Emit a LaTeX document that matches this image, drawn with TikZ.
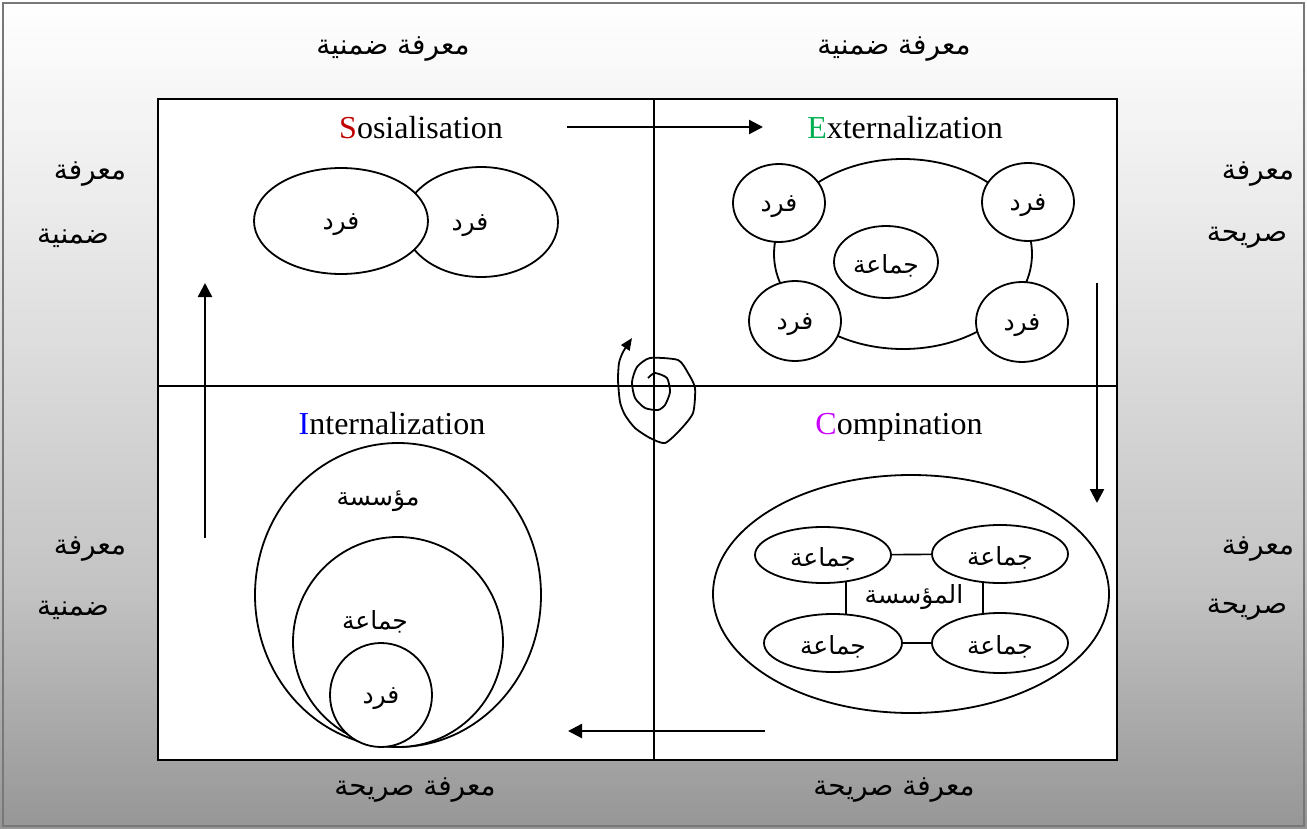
\documentclass[tikz,border=0pt]{standalone}
\usepackage{fontspec}
\setmainfont{Liberation Serif}
\newfontfamily\arabicfont[Script=Arabic]{DejaVu Sans}
\TeXXeTstate=1
\usetikzlibrary{shapes.geometric,arrows.meta,calc}

\definecolor{sred}{RGB}{192,0,0}
\definecolor{egreen}{RGB}{0,176,80}
\definecolor{iblue}{RGB}{0,0,255}
\definecolor{cviolet}{RGB}{204,0,255}
\definecolor{gbot}{RGB}{150,150,150}
\definecolor{gmid}{RGB}{196,196,196}
\definecolor{glight}{RGB}{236,236,236}
\definecolor{frame}{RGB}{120,120,120}

\pgfdeclareverticalshading{pageshade}{100bp}{%
  color(0bp)=(gbot); color(25bp)=(gbot); color(40bp)=(gmid);
  color(63bp)=(glight); color(75bp)=(white); color(100bp)=(white)}

\pgfdeclarelayer{back}
\pgfdeclarelayer{links}
\pgfsetlayers{back,links,main}

\tikzset{
  x=0.5pt, y=-0.5pt,
  side/.style={font=\arabicfont\fontsize{14}{16}\selectfont, inner sep=0pt, yshift=-2pt},
  inlbl/.style={font=\arabicfont\fontsize{12.5}{14}\selectfont, inner sep=0pt, yshift=-2pt},
  title/.style={font=\fontsize{16}{19}\selectfont, inner sep=0pt,
                text height=11pt, text depth=3.5pt},
  ell/.style={ellipse, draw, fill=white, line width=0.9pt, inner sep=0pt},
  flow/.style={line width=1.2pt, -{Triangle[length=7pt,width=7pt]}},
  divider/.style={line width=0.8pt},
  link/.style={line width=0.8pt}
}

\begin{document}
\begin{tikzpicture}
\useasboundingbox (0,0) rectangle (1307,829);

% page background, frame and the four quadrants
\begin{pgfonlayer}{back}
  \shade[shading=pageshade] (0,0) rectangle (1307,829);
  \draw[frame, line width=1.2pt] (3,3) rectangle (1304,826);
  \draw[fill=white, line width=1pt] (158,99) rectangle (1117,760);
  \draw[divider] (654,99) -- (654,760);
  \draw[divider] (158,386) -- (1117,386);
  % organisation ellipse of the combination quadrant (behind its links)
  \node[ell, minimum width=198pt, minimum height=119pt] (c0) at (911,594) {};
\end{pgfonlayer}

% outer labels
\node[side] (top1) at (393,45) {\beginR معرفة ضمنية\endR};
\node[side] (top2) at (894,45) {\beginR معرفة ضمنية\endR};
\node[side] (bot1) at (415,786) {\beginR معرفة صريحة\endR};
\node[side] (bot2) at (894,786) {\beginR معرفة صريحة\endR};
\node[side] (l1a) at (90,170) {\beginR معرفة\endR};
\node[side] (l1b) at (73,234) {\beginR ضمنية\endR};
\node[side] (l2a) at (90,545) {\beginR معرفة\endR};
\node[side] (l2b) at (73,606) {\beginR ضمنية\endR};
\node[side] (r1a) at (1258,170) {\beginR معرفة\endR};
\node[side] (r1b) at (1247,234) {\beginR صريحة\endR};
\node[side] (r2a) at (1258,545) {\beginR معرفة\endR};
\node[side] (r2b) at (1247,606) {\beginR صريحة\endR};

% quadrant titles
\node[title] (tS) at (421,131) {\textcolor{sred}{S}osialisation};
\node[title] (tE) at (905,131) {\textcolor{egreen}{E}xternalization};
\node[title] (tI) at (392,427) {\textcolor{iblue}{I}nternalization};
\node[title] (tC) at (899,427) {\textcolor{cviolet}{C}ompination};

% socialisation: two overlapping individuals
\node[ell, minimum width=77pt, minimum height=55pt] (s2) at (481,222) {};
\node[inlbl] (s2t) at (470,222) {\beginR فرد\endR};
\node[ell, minimum width=87pt, minimum height=53pt,
      label={[inlbl]center:\beginR فرد\endR}] (s1) at (341,221) {};

% externalization: group surrounded by individuals
\node[ell, minimum width=129pt, minimum height=95pt] (e0) at (903,254) {};
\node[ell, minimum width=52pt, minimum height=36pt,
      label={[inlbl]center:\beginR جماعة\endR}] (eg) at (886,262) {};
\node[ell, minimum width=46pt, minimum height=39pt,
      label={[inlbl]center:\beginR فرد\endR}] (e1) at (779,203) {};
\node[ell, minimum width=46pt, minimum height=39pt,
      label={[inlbl]center:\beginR فرد\endR}] (e2) at (1028,202) {};
\node[ell, minimum width=46pt, minimum height=40pt,
      label={[inlbl]center:\beginR فرد\endR}] (e3) at (795,321) {};
\node[ell, minimum width=46pt, minimum height=40pt,
      label={[inlbl]center:\beginR فرد\endR}] (e4) at (1022,322) {};

% combination: organisation of linked groups
\node[inlbl] (corg) at (914,593) {\beginR المؤسسة\endR};
\node[ell, minimum width=68pt, minimum height=28pt,
      label={[inlbl]center:\beginR جماعة\endR}] (c1) at (823,555) {};
\node[ell, minimum width=68pt, minimum height=29pt,
      label={[inlbl]center:\beginR جماعة\endR}] (c2) at (1000,554) {};
\node[ell, minimum width=69pt, minimum height=29pt,
      label={[inlbl]center:\beginR جماعة\endR}] (c3) at (833,643) {};
\node[ell, minimum width=68pt, minimum height=30pt,
      label={[inlbl]center:\beginR جماعة\endR}] (c4) at (1000,643) {};
\begin{pgfonlayer}{links}
  \draw[link] (c1) -- (c2);
  \draw[link] (c3) -- (c4);
  \draw[link] ($(c1.center)+(23,0)$) -- ($(c3.center)+(13,0)$);
  \draw[link] ($(c2.center)+(-17,0)$) -- ($(c4.center)+(-17,0)$);
\end{pgfonlayer}

% internalization: nested organisation, group, individual
\node[ell, minimum width=143pt, minimum height=152pt] (i0) at (398,595) {};
\node[ell, minimum width=105pt, minimum height=105pt] (i1) at (398,642) {};
\node[ell, minimum width=51pt, minimum height=52pt,
      label={[inlbl]center:\beginR فرد\endR}] (i2) at (381,695) {};
\node[inlbl] (i0t) at (378,497) {\beginR مؤسسة\endR};
\node[inlbl] (i1t) at (375,618) {\beginR جماعة\endR};

% cycle arrows
\coordinate (aS) at (567,127);  \coordinate (aE) at (763,127);
\coordinate (bE) at (1097,283); \coordinate (bC) at (1097,503);
\coordinate (cC) at (765,731);  \coordinate (cI) at (568,731);
\coordinate (dI) at (205,538);  \coordinate (dS) at (205,283);
\draw[flow] (aS) -- (aE);
\draw[flow] (bE) -- (bC);
\draw[flow] (cC) -- (cI);
\draw[flow] (dI) -- (dS);

% knowledge spiral at the centre
\draw[line width=0.9pt, line join=round, -{Triangle[length=6pt,width=5pt]}]
  plot[smooth, tension=0.4] coordinates {
   (648,378) (655,373) (667,378) (670,392) (665,405) (658,410) (645,408)
   (635,398) (632,382) (637,367) (650,358) (678,360) (688,373) (695,388)
   (693,413) (680,430) (665,443) (650,438) (635,428) (625,415) (620,402)
   (618,380) (619,363) (623,352) (632,338)};
\end{tikzpicture}
\end{document}
